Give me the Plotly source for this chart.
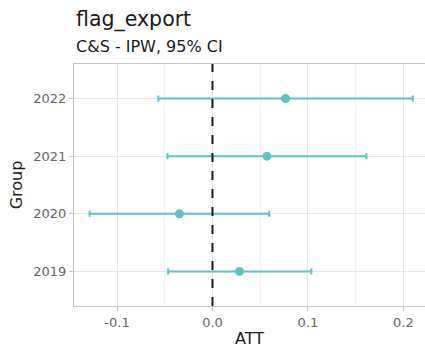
import plotly.graph_objects as go

# Group-level ATT estimates with 95% confidence intervals
groups = ["2019", "2020", "2021", "2022"]
att = [0.0283, -0.0346, 0.0571, 0.0766]
ci_low = [-0.0465, -0.1287, -0.0472, -0.0567]
ci_high = [0.1036, 0.0595, 0.1613, 0.2099]

teal = "#5cc2c6"
font_family = "DejaVu Sans, Verdana, sans-serif"

err_plus = [h - a for h, a in zip(ci_high, att)]
err_minus = [a - l for a, l in zip(att, ci_low)]

fig = go.Figure()

# reference line at zero
fig.add_shape(
    type="line", xref="x", yref="paper", x0=0, x1=0, y0=0, y1=1,
    line=dict(color="#1a1a1a", width=2, dash="dash"), layer="above",
)

fig.add_trace(go.Scatter(
    x=att, y=groups, mode="markers",
    marker=dict(color=teal, size=9),
    error_x=dict(type="data", symmetric=False, array=err_plus,
                 arrayminus=err_minus, color=teal, thickness=2, width=3),
    showlegend=False,
))

fig.update_layout(
    width=425, height=353,
    margin=dict(l=74, r=0, t=64, b=47),
    paper_bgcolor="white", plot_bgcolor="white",
    font=dict(family=font_family, color="#4d4d4d", size=13),
    annotations=[
        dict(text="flag_export", xref="paper", yref="paper", x=0, y=1.182,
             xanchor="left", yanchor="middle", showarrow=False,
             font=dict(size=20.5, color="#1a1a1a", family=font_family)),
        dict(text="C&S - IPW, 95% CI", xref="paper", yref="paper", x=0, y=1.074,
             xanchor="left", yanchor="middle", showarrow=False,
             font=dict(size=16, color="#1a1a1a", family=font_family)),
    ],
)

fig.update_xaxes(
    range=[-0.1451, 0.2227],
    tickvals=[-0.1, 0.0, 0.1, 0.2], ticktext=["-0.1", "0.0", "0.1", "0.2"],
    showgrid=True, gridcolor="#e6e6e6", gridwidth=1,
    minor=dict(tickvals=[-0.05, 0.05, 0.15], showgrid=True,
               gridcolor="#f2f2f2", gridwidth=1),
    showline=True, linecolor="#c4c4c4", linewidth=1, mirror=True,
    ticks="outside", ticklen=4, tickcolor="#c4c4c4",
    zeroline=False,
    title=dict(text="ATT", font=dict(size=16, color="#1a1a1a"), standoff=4),
    tickfont=dict(size=13, color="#666666"),
)

fig.update_yaxes(
    type="category", categoryorder="array", categoryarray=groups,
    range=[-0.6, 3.6],
    showgrid=True, gridcolor="#e6e6e6", gridwidth=1,
    showline=True, linecolor="#c4c4c4", linewidth=1,
    ticks="outside", ticklen=4, tickcolor="#c4c4c4",
    zeroline=False,
    title=dict(text="Group", font=dict(size=16, color="#1a1a1a"), standoff=6),
    tickfont=dict(size=13, color="#666666"),
)

fig.write_html("out.html")
